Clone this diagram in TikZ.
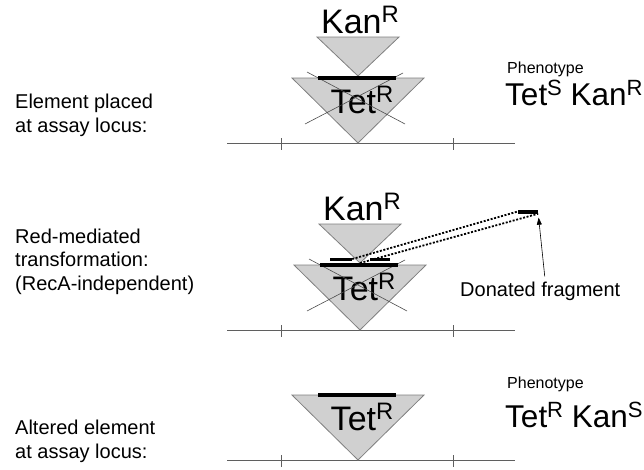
\documentclass[tikz,border=0pt]{standalone}
\usepackage{fontspec}
\setmainfont{Liberation Sans}
\usetikzlibrary{arrows.meta}
\definecolor{insertgray}{RGB}{208,208,208}
\definecolor{edgegray}{RGB}{128,128,128}
\definecolor{locusgray}{RGB}{95,95,95}
\newcommand{\res}[2]{#1\raisebox{0.3em}{\scalebox{0.7}{#2}}}

\begin{document}
\begin{tikzpicture}[x=1pt,y=-1pt,
  every node/.style={inner sep=0pt},
  side/.style={font=\fontsize{20}{23.5}\selectfont,align=left,anchor=base west},
  gene/.style={font=\fontsize{34}{34}\selectfont,anchor=base},
  pheno/.style={font=\fontsize{31.5}{32}\selectfont,anchor=base west},
  small/.style={font=\fontsize{16}{18}\selectfont,anchor=base west},
  insert/.style={fill=insertgray,draw=edgegray,line width=0.8pt,line join=miter},
  locus/.style={draw=locusgray,line width=0.9pt},
  cross/.style={draw=black!70,line width=0.6pt},
  bar/.style={line width=4pt},
  seg/.style={fill=black,minimum width=#1,minimum height=3pt},
  dots/.style={line width=1.8pt,dash pattern=on 2pt off 1.6pt},
  arrow/.style={-{Triangle[length=7pt,width=5pt]},line width=0.6pt}
]
  \useasboundingbox (0,0) rectangle (644,469);

  % locus, ticks and the Tet insert in every row
  \foreach \i/\dx/\dy in {1/0/0,2/2/187,3/0/317}{
    \draw[locus] (227,143+\dy) -- (515,143+\dy);
    \foreach \t in {281,453}
      \draw[locus] (\t,138+\dy) -- (\t,150+\dy);
    \draw[insert] (292+\dx,78+\dy) -- (424+\dx,78+\dy) -- (358+\dx,143+\dy) -- cycle;
    \node[gene] (tet\i) at (362+\dx,113+\dy) {\res{Tet}{R}};
  }

  % Kan cassette on top, Tet crossed out
  \foreach \i/\dx/\dy in {1/0/0,2/2/187}{
    \draw[cross] (307+\dx,72+\dy) -- (405+\dx,124+\dy);
    \draw[cross] (305+\dx,124+\dy) -- (403+\dx,73+\dy);
    \draw[insert] (317+\dx,37+\dy) -- (399+\dx,37+\dy) -- (358+\dx,76+\dy) -- cycle;
    \node[gene] (kan\i) at (360+\dx,33+\dy) {\res{Kan}{R}};
  }
  \foreach \dx/\dy in {0/0,2/187,0/317}
    \draw[bar] (318+\dx,78+\dy) -- (396+\dx,78+\dy);

  % recombination with the donated fragment
  \coordinate (kantip) at (360,263);
  \node[seg=22pt] (segl) at (341,259) {};
  \node[seg=20pt] (segr) at (380,259) {};
  \node[fill=black,minimum width=20pt,minimum height=4pt] (frag) at (528,211.5) {};
  \draw[dots] (segl.east) -- (frag.west);
  \draw[dots] (kantip) -- (frag.south east);
  \node[side] (donated) at (460,296) {Donated fragment};
  \draw[arrow,shorten <=5pt,shorten >=4pt] ([xshift=5pt]donated.north) -- (frag.south east);

  \node[side] (step1) at (15,132) {Element placed\\at assay locus:};
  \node[side] (step2) at (15,290) {Red-mediated\\transformation:\\(RecA-independent)};
  \node[side] (step3) at (15,458) {Altered element\\at assay locus:};

  \node[small] (phead1) at (507,73) {Phenotype};
  \node[pheno] (pheno1) at (505,105) {\res{Tet}{S} \res{Kan}{R}};
  \node[small] (phead3) at (507,388) {Phenotype};
  \node[pheno] (pheno3) at (505,427) {\res{Tet}{R} \res{Kan}{S}};
\end{tikzpicture}
\end{document}
